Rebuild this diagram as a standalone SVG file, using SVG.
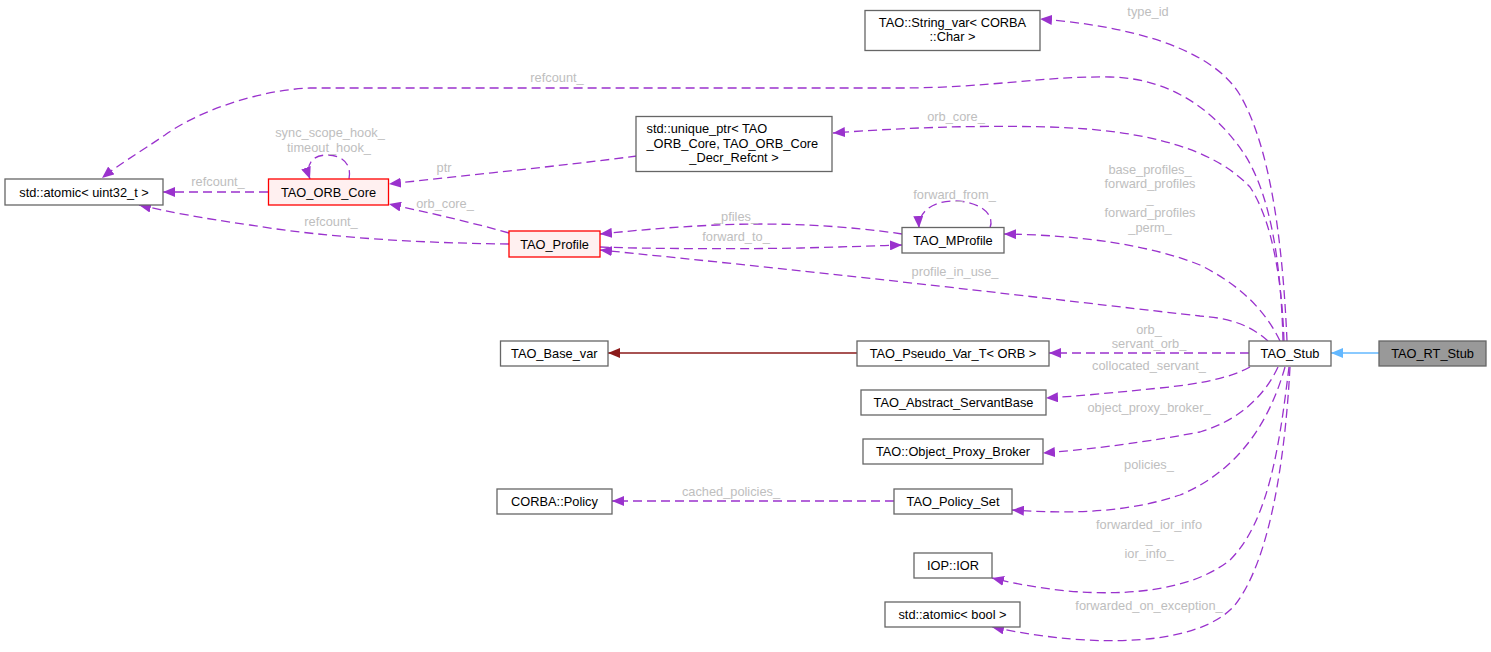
<svg xmlns="http://www.w3.org/2000/svg" width="1491" height="652" viewBox="0 0 1491 652">
<style>
.n rect{fill:#ffffff;stroke:#666666;stroke-width:1.3}
.r rect{fill:#fff0f0;stroke:#ff0000;stroke-width:1.3}
.g rect{fill:#999999;stroke:#666666;stroke-width:1.3}
text{font-family:"Liberation Sans",Arial,Helvetica,sans-serif;font-size:12.8px;fill:#000000}
text.c{text-anchor:middle}
text.l{text-anchor:middle;fill:#bebebe}
.e path{fill:none;stroke:#9a32cd;stroke-width:1.3;stroke-dasharray:9,5}
.e path.inh{stroke:#63b8ff;stroke-dasharray:none}
.e path.base{stroke:#8b1a1a;stroke-dasharray:none}
</style>
<defs>
<marker id="ap" markerUnits="userSpaceOnUse" markerWidth="12" markerHeight="10" viewBox="0 0 12 10" refX="12" refY="5" orient="auto"><path d="M0,0 L12,5 L0,10 z" fill="#9a32cd"/></marker>
<marker id="ab" markerUnits="userSpaceOnUse" markerWidth="12" markerHeight="10" viewBox="0 0 12 10" refX="12" refY="5" orient="auto"><path d="M0,0 L12,5 L0,10 z" fill="#63b8ff"/></marker>
<marker id="ar" markerUnits="userSpaceOnUse" markerWidth="12" markerHeight="10" viewBox="0 0 12 10" refX="12" refY="5" orient="auto"><path d="M0,0 L12,5 L0,10 z" fill="#8b1a1a"/></marker>
</defs>
<rect width="1491" height="652" fill="#ffffff"/>
<g id="edges" class="e">
<path d="M1287,341 C1283,250 1272,150 1240,95 C1210,45 1120,25 1040,19" marker-end="url(#ap)"/>
<path d="M1283,341 C1281,260 1270,195 1245,155 C1215,110 1170,78 1110,77 C1040,76 990,88 900,88 L310,88 C260,90 200,110 165,135 C140,152 118,165 102,178" marker-end="url(#ap)"/>
<path d="M1284,341 C1282,280 1272,220 1250,187 C1215,150 1150,130 1050,127 C970,125 900,128 833,133" marker-end="url(#ap)"/>
<path d="M1280,341 C1265,310 1240,285 1200,265 C1150,245 1080,235 1004,234" marker-end="url(#ap)"/>
<path d="M1268,341 C1250,325 1230,318 1200,316 C1100,305 900,280 600,250" marker-end="url(#ap)"/>
<path d="M902,234 C850,226 780,222 717,225 C670,227 630,231 600,234" marker-end="url(#ap)"/>
<path d="M600,247 C650,249 750,249 801,248 C840,247 870,246 902,245" marker-end="url(#ap)"/>
<path d="M990,228 C996,212 975,200 952,201 C932,202 918,212 919,228" marker-end="url(#ap)"/>
<path d="M637,156 C560,166 470,175 389,184" marker-end="url(#ap)"/>
<path d="M268,192 L163,192" marker-end="url(#ap)"/>
<path d="M349,179 C352,165 343,155 327,155 C312,155 305,165 310,179" marker-end="url(#ap)"/>
<path d="M509,233 C470,222 430,213 389,204" marker-end="url(#ap)"/>
<path d="M509,244 C420,243 330,238 250,225 C200,218 170,212 139,205" marker-end="url(#ap)"/>
<path class="base" d="M857,353 L608,353" marker-end="url(#ar)"/>
<path d="M1249,353 L1049,353" marker-end="url(#ap)"/>
<path d="M1250,367 C1230,378 1200,384 1160,388 C1110,393 1080,396 1046,398" marker-end="url(#ap)"/>
<path d="M1278,367 C1265,395 1240,420 1200,432 C1130,445 1080,450 1043,453" marker-end="url(#ap)"/>
<path d="M1285,367 C1270,420 1240,470 1180,495 C1120,515 1060,513 1012,510" marker-end="url(#ap)"/>
<path d="M894,501 L612,501" marker-end="url(#ap)"/>
<path d="M1289,367 C1280,440 1270,520 1230,560 C1180,600 1080,600 992,578" marker-end="url(#ap)"/>
<path d="M1290,367 C1285,460 1270,560 1235,605 C1200,645 1100,650 992,627" marker-end="url(#ap)"/>
<path class="inh" d="M1379,353 L1331,353" marker-end="url(#ab)"/>
</g>
<g id="edge-labels">
<text class="l" x="1148" y="16">type_id</text>
<text class="l" x="557" y="82">refcount_</text>
<text class="l" x="956" y="121">orb_core_</text>
<text class="l" x="1150" y="173.5">base_profiles_</text>
<text class="l" x="1150" y="188">forward_profiles</text>
<text class="l" x="1150" y="202.5">_</text>
<text class="l" x="1150" y="217">forward_profiles</text>
<text class="l" x="1150" y="231.5">_perm_</text>
<text class="l" x="955" y="276">profile_in_use_</text>
<text class="l" x="736" y="220.5">_pfiles_</text>
<text class="l" x="736" y="241">forward_to_</text>
<text class="l" x="954.5" y="199">forward_from_</text>
<text class="l" x="444" y="172">ptr</text>
<text class="l" x="218" y="185.5">refcount_</text>
<text class="l" x="330" y="137">sync_scope_hook_</text>
<text class="l" x="329" y="151.5">timeout_hook_</text>
<text class="l" x="445" y="208">orb_core_</text>
<text class="l" x="331" y="226">refcount_</text>
<text class="l" x="1149" y="333.5">orb_</text>
<text class="l" x="1149" y="347.5">servant_orb_</text>
<text class="l" x="1149" y="369.5">collocated_servant_</text>
<text class="l" x="1149" y="411.8">object_proxy_broker_</text>
<text class="l" x="1149" y="468.5">policies_</text>
<text class="l" x="731" y="496">cached_policies_</text>
<text class="l" x="1149" y="528.5">forwarded_ior_info</text>
<text class="l" x="1149" y="543">_</text>
<text class="l" x="1149" y="557.5">ior_info_</text>
<text class="l" x="1149" y="609.8">forwarded_on_exception_</text>
</g>
<g id="TAO_RT_Stub" class="g"><rect x="1379" y="341" width="107" height="25"/><text class="c" x="1432.5" y="358">TAO_RT_Stub</text></g>
<g id="TAO_Stub" class="n"><rect x="1249" y="341" width="82" height="25"/><text class="c" x="1290" y="358">TAO_Stub</text></g>
<g id="String_var" class="n"><rect x="865" y="10.5" width="175" height="40"/><text class="c" x="952.5" y="27">TAO::String_var&lt; CORBA</text><text class="c" x="952.5" y="41">::Char &gt;</text></g>
<g id="unique_ptr" class="n"><rect x="636" y="116.5" width="196" height="55"/><text x="646.5" y="133">std::unique_ptr&lt; TAO</text><text x="646.5" y="147.5">_ORB_Core, TAO_ORB_Core</text><text class="c" x="734" y="162">_Decr_Refcnt &gt;</text></g>
<g id="atomic_uint32" class="n"><rect x="5" y="179" width="158" height="26"/><text class="c" x="84" y="196.5">std::atomic&lt; uint32_t &gt;</text></g>
<g id="TAO_ORB_Core" class="r"><rect x="268.5" y="179" width="120" height="26"/><text class="c" x="328.5" y="196.5">TAO_ORB_Core</text></g>
<g id="TAO_Profile" class="r"><rect x="509" y="231" width="91" height="26"/><text class="c" x="554.5" y="248.5">TAO_Profile</text></g>
<g id="TAO_MProfile" class="n"><rect x="902" y="227.5" width="102" height="25.5"/><text class="c" x="953" y="244.5">TAO_MProfile</text></g>
<g id="TAO_Base_var" class="n"><rect x="500.5" y="341" width="107.5" height="25"/><text class="c" x="554.3" y="358">TAO_Base_var</text></g>
<g id="TAO_Pseudo_Var_T" class="n"><rect x="857" y="341" width="192" height="25"/><text class="c" x="953" y="358">TAO_Pseudo_Var_T&lt; ORB &gt;</text></g>
<g id="TAO_Abstract_ServantBase" class="n"><rect x="861" y="390" width="185" height="25"/><text class="c" x="953.5" y="407">TAO_Abstract_ServantBase</text></g>
<g id="Object_Proxy_Broker" class="n"><rect x="863" y="439" width="180" height="25"/><text class="c" x="953" y="456">TAO::Object_Proxy_Broker</text></g>
<g id="CORBA_Policy" class="n"><rect x="497" y="489" width="115" height="25"/><text class="c" x="554.5" y="506">CORBA::Policy</text></g>
<g id="TAO_Policy_Set" class="n"><rect x="894" y="489" width="118" height="25"/><text class="c" x="953" y="506">TAO_Policy_Set</text></g>
<g id="IOP_IOR" class="n"><rect x="914" y="553" width="78" height="25"/><text class="c" x="953" y="570">IOP::IOR</text></g>
<g id="atomic_bool" class="n"><rect x="885" y="602" width="135" height="25"/><text class="c" x="952.5" y="619">std::atomic&lt; bool &gt;</text></g>
</svg>
